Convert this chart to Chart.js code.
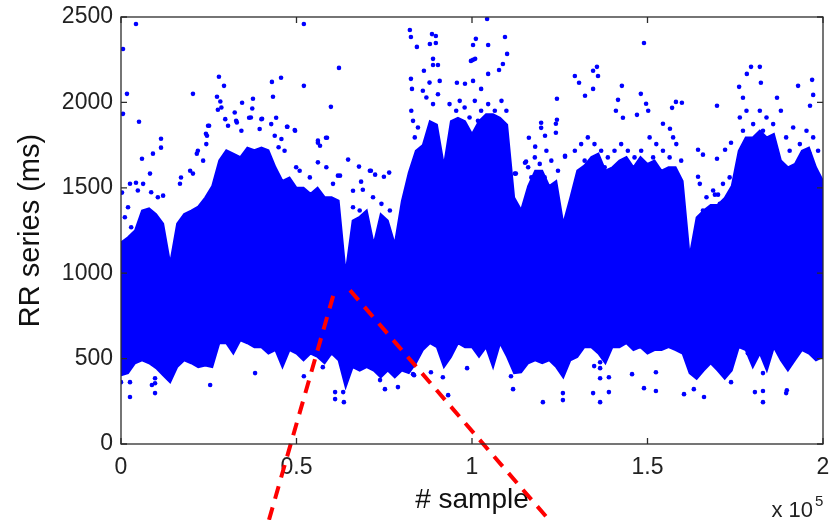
<!DOCTYPE html>
<html>
<head>
<meta charset="utf-8">
<title>RR series</title>
<script src="https://cdn.jsdelivr.net/npm/chart.js@4.4.1/dist/chart.umd.min.js"></script>
<style>
  html, body { margin: 0; padding: 0; background: #fff; }
  #wrap { width: 837px; height: 520px; }
</style>
</head>
<body>
<div id="wrap"><canvas id="rrChart" width="837" height="520"></canvas></div>
<script>
// sample index of each envelope column (every 2000 samples)
const binX = [
  0, 2000, 4000, 6000, 8000, 10000, 12000, 14000, 16000, 18000,
  20000, 22000, 24000, 26000, 28000, 30000, 32000, 34000, 36000, 38000,
  40000, 42000, 44000, 46000, 48000, 50000, 52000, 54000, 56000, 58000,
  60000, 62000, 64000, 66000, 68000, 70000, 72000, 74000, 76000, 78000,
  80000, 82000, 84000, 86000, 88000, 90000, 92000, 94000, 96000, 98000,
  100000, 102000, 104000, 106000, 108000, 110000, 112000, 114000, 116000, 118000,
  120000, 122000, 124000, 126000, 128000, 130000, 132000, 134000, 136000, 138000,
  140000, 142000, 144000, 146000, 148000, 150000, 152000, 154000, 156000, 158000,
  160000, 162000, 164000, 166000, 168000, 170000, 172000, 174000, 176000, 178000,
  180000, 182000, 184000, 186000, 188000, 190000, 192000, 194000, 196000, 198000,
  200000
];

// top of the dense cloud (ms)
const upperRR = [
  1180, 1210, 1250, 1367, 1380, 1346, 1290, 1057, 1290, 1346,
  1367, 1390, 1443, 1510, 1660, 1720, 1700, 1680, 1735, 1720,
  1735, 1720, 1620, 1540, 1560, 1500, 1500, 1465, 1500, 1445,
  1445, 1425, 1000, 1308, 1330, 1367, 1170, 1346, 1308, 1170,
  1420, 1590, 1717, 1750, 1890, 1870, 1630, 1890, 1910, 1890,
  1815, 1890, 1930, 1930, 1910, 1870, 1443, 1370, 1510, 1600,
  1600, 1510, 1540, 1290, 1440, 1600, 1630, 1680, 1700, 1600,
  1620, 1660, 1680, 1620, 1680, 1640, 1660, 1600, 1620, 1620,
  1540, 1100, 1326, 1367, 1400, 1400, 1440, 1510, 1717, 1795,
  1795, 1835, 1795, 1815, 1660, 1620, 1640, 1717, 1735, 1620,
  1540
];

// bottom of the dense cloud (ms)
const lowerRR = [
  403, 415, 473, 490, 473, 444, 403, 362, 450, 490,
  473, 450, 460, 450, 590, 590, 530, 607, 590, 567,
  567, 530, 550, 450, 550, 530, 490, 530, 510, 473,
  530, 490, 333, 450, 430, 450, 430, 390, 430, 390,
  430, 415, 473, 550, 590, 567, 450, 510, 590, 567,
  567, 510, 567, 450, 590, 510, 415, 420, 473, 490,
  473, 490, 450, 390, 490, 510, 567, 567, 530, 473,
  567, 567, 590, 550, 567, 530, 550, 550, 567, 550,
  530, 415, 382, 430, 473, 430, 382, 430, 567, 550,
  450, 530, 430, 567, 490, 430, 490, 550, 530, 490,
  510
];

// isolated beats outside the dense cloud
const outlierX = [
  570, 4270, 1700, 570, 5130, 11400, 11400, 9100, 5980, 20500,
  27900, 29350, 27350, 34500, 37600, 43000, 45600, 43300, 52100, 52100,
  62100, 59800, 47300, 49600, 58700, 64700, 67800, 70900, 82300, 82600,
  84300, 82600, 82900, 21600, 25100, 24500, 32800, 36500, 40200, 44200,
  56100, 62400, 68900, 88600, 89700, 88000, 89700, 88900, 88900, 90300,
  86300, 104300, 101100, 100300, 104600, 109400, 110000, 100300, 100900, 108800,
  107700, 104600, 100300, 95700, 98000, 102600, 124200, 149000, 129300, 130500,
  134500, 135600, 135900, 132200, 134500, 142700, 148100, 149600, 150200, 141600,
  147000, 157000, 158100, 159800, 169800, 179500, 182000, 178300, 182300, 176100,
  177200, 192900, 196900, 197200, 196300, 186900, 188000, 164400, 165800, 172100,
  173800, 169800, 116200, 119700, 119700, 124200, 118000, 120800, 126500, 112500,
  115100, 154400, 156400, 143000, 2560, 280, 4270, 8260, 16800, 17100,
  19700, 20500, 24200, 58400, 56100, 56700, 71200, 72400, 74900, 76400,
  66100, 68400, 99700, 141000, 123900, 123900, 126500, 112200, 115400, 164400,
  169200, 170100,
  0, 2560, 2560, 9700, 9700, 9700, 8800, 25400, 38200, 52100,
  57500, 61000, 61000, 63500, 63300, 73800, 75200, 78900, 83200, 83500,
  88300, 91700, 93200, 98600, 111100, 111700, 120200, 125900, 125900, 134500,
  134800, 136500, 136500, 136500, 136500, 139000, 139000, 145600, 149000, 152400,
  152400, 160400, 163200, 166100, 173800, 180600, 182900, 182900, 182900, 189700,
  189500, 178600
];
const outlierY = [
  2313, 2459, 2050, 1933, 1887, 1787, 1735, 1700, 1670, 2050,
  2150, 2097, 2033, 1998, 2021, 2120, 2144, 2033, 2459, 2097,
  2202, 1974, 1857, 1834, 1793, 1665, 1624, 1600, 2424, 2383,
  2325, 2138, 2079, 1700, 1863, 1805, 1892, 1910, 1904, 1910,
  1764, 1571, 1489, 2400, 2389, 2342, 2348, 2255, 2219, 2219,
  2185, 2488, 2372, 2336, 2336, 2383, 2284, 2249, 2255, 2225,
  2190, 2167, 2126, 2115, 2109, 2079, 2021, 2348, 2155, 2115,
  2185, 2208, 2155, 2039, 2079, 2097, 2050, 1992, 1951, 2015,
  1927, 1968, 2003, 1998, 1980, 2208, 2208, 2167, 2115, 2091,
  2027, 2097, 2132, 2044, 1980, 2027, 1951, 1723, 1694, 1723,
  1764, 1670, 1793, 1881, 1851, 1898, 1741, 1805, 1688, 1583,
  1647, 1875, 1846, 1910, 1524, 1472, 1530, 1583, 1524, 1560,
  1600, 1583, 1816, 1793, 1776, 1746, 1600, 1577, 1565, 1589,
  1483, 1536, 2243, 1951, 1875, 1822, 1682, 1583, 1653, 1565,
  1460, 1460,
  362, 362, 275, 385, 356, 298, 345, 345, 415, 397,
  450, 304, 263, 245, 304, 374, 321, 333, 409, 403,
  420, 391, 286, 444, 397, 321, 245, 298, 257, 298,
  456, 479, 444, 385, 245, 391, 304, 409, 327, 420,
  310, 292, 321, 275, 362, 304, 310, 245, 415, 315,
  298, 531
];

// scattered beats just above the dense cloud
const fringeX = [
  28300, 27600, 28600, 29700, 30500, 32400, 33000, 34300, 37000, 37400,
  40000, 39500, 42800, 43800, 45700, 47400, 49500, 44900, 46600, 24800,
  24300, 21900, 23400, 4800, 6300, 8600, 10500, 12000, 2000, 1100,
  2900, 50900, 53800, 56100, 58500, 60400, 61800, 49900, 66100, 68000,
  71800, 74200, 76600, 82700, 83200, 84600, 86000, 87000, 87900, 88900,
  90300, 90800, 83700, 93600, 95500, 96500, 97900, 99300, 94600, 97400,
  100800, 102600, 104600, 106500, 108400, 109800, 101700, 107400, 116000, 117900,
  119300, 121200, 122600, 124500, 116900, 120700, 129300, 131100, 133000, 134900,
  136800, 138700, 140600, 142500, 144400, 146300, 148200, 132100, 137800, 150600,
  152500, 154400, 156300, 158200, 159600, 151600, 157300, 164900, 166800, 168700,
  171500, 173400, 165800, 170600, 176300, 178200, 180100, 182000, 183900, 185800,
  177200, 182900, 189500, 191500, 193400, 195300, 197200, 198600, 190500, 196200
];
const fringeY = [
  2005, 1957, 1970, 1902, 1863, 1941, 1883, 1834, 1912, 1964,
  1902, 1844, 1873, 1805, 1786, 1857, 1838, 1737, 1717, 1863,
  1756, 1717, 1659, 1484, 1523, 1474, 1445, 1454, 1386, 1328,
  1269, 1600, 1561, 1649, 1620, 1523, 1571, 1620, 1386, 1367,
  1445, 1406, 1367, 1951, 1892, 1853, 2068, 2029, 2116, 1990,
  2048, 2126, 1795, 1990, 1951, 2009, 1970, 1912, 1873, 1853,
  2009, 1951, 1990, 1951, 2009, 1951, 1892, 1892, 1620, 1678,
  1640, 1717, 1659, 1600, 1561, 1561, 1717, 1756, 1795, 1756,
  1717, 1678, 1717, 1756, 1717, 1678, 1717, 1659, 1620, 1795,
  1756, 1717, 1678, 1756, 1659, 1678, 1795, 1523, 1445, 1484,
  1523, 1561, 1367, 1406, 1912, 1951, 1873, 1951, 1912, 1873,
  1834, 1834, 1795, 1853, 1756, 1834, 1795, 1717, 1717, 1698
];

// red dashed zoom guides (sample, ms)
const guideLeftX = [42165, 60969];
const guideLeftY = [-444, 905];
const guideRightX = [65242, 121937];
const guideRightY = [900, -444];

const xTicks = [0, 50000, 100000, 150000, 200000];
const xTickLabels = ["0", "0.5", "1", "1.5", "2"];
const yTicks = [0, 500, 1000, 1500, 2000, 2500];
const yTickLabels = ["0", "500", "1000", "1500", "2000", "2500"];

const BLUE = "#0000ff";
const FONT = "'Liberation Sans', Arial, Helvetica, sans-serif";

function toPoints(xs, ys) {
  return xs.map((x, i) => ({ x: x, y: ys[i] }));
}

// frame with inward ticks + the "x 10^5" exponent, like the matlab axes
const axesBoxPlugin = {
  id: "axesBox",
  afterDatasetsDraw(chart) {
    const { ctx, chartArea: a, scales } = chart;
    const tick = 6;
    ctx.save();
    ctx.strokeStyle = "#2b2b2b";
    ctx.lineWidth = 1.3;
    ctx.strokeRect(a.left, a.top, a.right - a.left, a.bottom - a.top);

    ctx.beginPath();
    xTicks.forEach((v) => {
      const px = scales.x.getPixelForValue(v);
      ctx.moveTo(px, a.bottom);
      ctx.lineTo(px, a.bottom - tick);
      ctx.moveTo(px, a.top);
      ctx.lineTo(px, a.top + tick);
    });
    yTicks.forEach((v) => {
      const py = scales.y.getPixelForValue(v);
      ctx.moveTo(a.left, py);
      ctx.lineTo(a.left + tick, py);
      ctx.moveTo(a.right, py);
      ctx.lineTo(a.right - tick, py);
    });
    ctx.stroke();

    // exponent label
    ctx.fillStyle = "#222";
    ctx.textAlign = "right";
    ctx.textBaseline = "alphabetic";
    ctx.font = "22px " + FONT;
    ctx.fillText("x 10", a.right - 10, 517);
    ctx.textAlign = "left";
    ctx.font = "15px " + FONT;
    ctx.fillText("5", a.right - 8, 506);
    ctx.restore();
  },
};

function buildChart() {
  const ctx = document.getElementById("rrChart").getContext("2d");
  const guideStyle = {
    type: "line",
    borderColor: "#ff0000",
    borderWidth: 4,
    borderDash: [13, 9],
    pointRadius: 0,
    fill: false,
    clip: false,
  };
  const dotStyle = {
    backgroundColor: BLUE,
    borderWidth: 0,
    pointRadius: 2.3,
  };

  return new Chart(ctx, {
    type: "scatter",
    data: {
      datasets: [
        Object.assign({ data: toPoints(guideLeftX, guideLeftY) }, guideStyle),
        Object.assign({ data: toPoints(guideRightX, guideRightY) }, guideStyle),
        Object.assign({ label: "outliers", data: toPoints(outlierX, outlierY) }, dotStyle),
        Object.assign({ label: "fringe", data: toPoints(fringeX, fringeY) }, dotStyle),
        {
          type: "line",
          label: "upper",
          data: toPoints(binX, upperRR),
          borderColor: BLUE,
          borderWidth: 2,
          backgroundColor: BLUE,
          pointRadius: 0,
          tension: 0,
          fill: "+1",
        },
        {
          type: "line",
          label: "lower",
          data: toPoints(binX, lowerRR),
          borderColor: BLUE,
          borderWidth: 2,
          pointRadius: 0,
          tension: 0,
          fill: false,
        },
      ],
    },
    options: {
      responsive: false,
      animation: false,
      layout: { padding: { top: 17, right: 14, left: 0, bottom: 0 } },
      plugins: { legend: { display: false }, tooltip: { enabled: false } },
      scales: {
        x: {
          type: "linear",
          min: 0,
          max: 200000,
          afterFit: (scale) => {
            scale.height = 76;
            scale.paddingLeft = 0;
            scale.paddingRight = 0;
          },
          afterBuildTicks: (scale) => { scale.ticks = xTicks.map((v) => ({ value: v })); },
          grid: { display: false, drawTicks: false },
          border: { display: false },
          ticks: {
            padding: 10,
            color: "#222",
            font: { family: FONT, size: 23 },
            maxRotation: 0,
            callback: (v, i) => xTickLabels[i],
          },
          title: {
            display: true,
            text: "# sample",
            color: "#111",
            font: { family: FONT, size: 28 },
            padding: { top: 0, bottom: 3 },
          },
        },
        y: {
          min: 0,
          max: 2500,
          afterFit: (scale) => {
            scale.width = 121;
            scale.paddingTop = 0;
            scale.paddingBottom = 0;
          },
          afterBuildTicks: (scale) => { scale.ticks = yTicks.map((v) => ({ value: v })); },
          grid: { display: false, drawTicks: false },
          border: { display: false },
          ticks: {
            padding: 8,
            color: "#222",
            font: { family: FONT, size: 23 },
            callback: (v, i) => yTickLabels[i],
          },
          title: {
            display: true,
            text: "RR series (ms)",
            color: "#111",
            font: { family: FONT, size: 29 },
            padding: { top: 14, bottom: 0 },
          },
        },
      },
    },
    plugins: [axesBoxPlugin],
  });
}

buildChart();
</script>
</body>
</html>
